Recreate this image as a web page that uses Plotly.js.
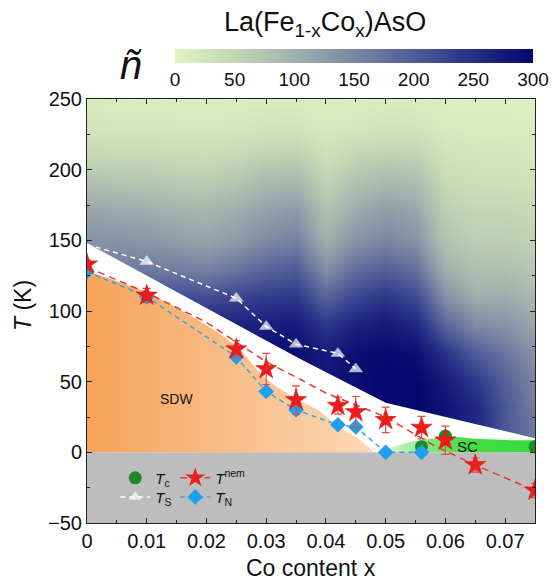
<!DOCTYPE html>
<html><head><meta charset="utf-8">
<script src="https://cdn.plot.ly/plotly-3.0.1.min.js"></script>
<style>html,body{margin:0;padding:0;background:#fff}#chart{width:552px;height:584px}</style>
</head><body><div id="chart"></div>
<script>
// ñ map grid (Co content x, temperature T)
const mapX = [0,0.005,0.01,0.015,0.02,0.025,0.03,0.035,0.04,0.045,0.05,0.055,0.06,0.065,0.07,0.075];
const mapT = [10,30,50,70,90,110,130,150,170,190,210,230,250];
const mapZ = [
  [150,180,220,250,270,280,290,290,280,290,295,295,285,260,205,165],
  [150,180,220,250,270,280,290,290,280,290,300,300,285,260,205,160],
  [150,180,220,250,270,280,290,290,280,290,300,300,275,240,195,150],
  [150,180,220,250,270,280,290,290,275,290,295,290,245,200,170,135],
  [150,180,220,250,260,265,270,275,240,265,275,260,190,145,135,112],
  [150,175,210,220,215,225,235,240,190,225,240,220,140,105,105,90],
  [150,160,165,160,155,170,190,200,140,180,195,175,100,80,80,70],
  [135,135,130,122,115,125,145,155,100,135,150,135,75,60,60,55],
  [115,110,105,98,95,105,120,130,80,110,125,115,60,50,50,45],
  [80,76,72,67,65,75,90,95,55,80,92,85,45,35,35,30],
  [48,46,45,42,40,45,55,58,35,50,58,55,30,25,25,20],
  [25,23,22,21,20,22,25,26,18,22,26,25,16,14,14,13],
  [15,13,12,11,10,11,12,12,10,11,12,12,9,8,8,8]
];
const cbTicks = [0,50,100,150,200,250,300];

// phase boundaries
const whiteX = [0,0.0357,0.05,0.061,0.075];
const whiteT = [148,66,35,24,10];
const sdwX = [0,0.01,0.02,0.025,0.03,0.035,0.039,0.042,0.045,0.048];
const sdwT = [128,113,90,75,52,38,29,18,11,0];
const scX = [0.049,0.052,0.055,0.058,0.061,0.064,0.068,0.072,0.075];
const scT = [0,5,8,10,11,10,9,8.5,8.5];

// measured transitions
const tsX = [0,0.01,0.025,0.03,0.035,0.042,0.045];
const tsT = [147,135,109,89,76.5,70,59];
const tnX = [0,0.01,0.025,0.03,0.035,0.042,0.045,0.05,0.056];
const tnT = [128,110,67.5,43,30,19.5,18,0,0];
const nemX = [0,0.01,0.025,0.03,0.035,0.042,0.045,0.05,0.056,0.06,0.065,0.075];
const nemT = [133,111,73,59,37,33,28.5,23,17.5,8.5,-9,-27];
const nemErr = [3,5,6,11,10,6,11,9,8,10,5,5];
const nemFitX = [0,0.01,0.02,0.03,0.036,0.04,0.05,0.058,0.065,0.075];
const nemFitT = [131,113,92,64,51,42,25,5,-9,-27];
const tcX = [0.056,0.06,0.075];
const tcT = [4,11.5,4];

const RED = '#ee1d1d', BLUE = '#1e9ff0', GREEN = '#1f8a26';

const traces = [
  {type:'heatmap', x:mapX, y:mapT, z:mapZ, zmin:0, zmax:300, zsmooth:'best', hoverinfo:'skip',
   colorscale:[[0,'#e2f3c4'],[0.17,'#c3d5b4'],[0.33,'#a3b1ae'],[0.5,'#7a87a3'],[0.67,'#4e5b98'],[0.83,'#262f86'],[1,'#03076e']],
   colorbar:{orientation:'h', x:0.1964, xanchor:'left', y:1.0354, yanchor:'bottom', len:358, lenmode:'pixels',
     thickness:14, xpad:0, ypad:0, outlinewidth:0, ticks:'', ticklabelposition:'outside top',
     tickmode:'array', tickvals:cbTicks, tickfont:{size:19, color:'#111'}}},
  {type:'scatter', x:whiteX, y:whiteT, mode:'lines', fill:'tozeroy', fillcolor:'#ffffff', line:{width:0}, showlegend:false, hoverinfo:'skip'},
  {type:'scatter', x:sdwX, y:sdwT, mode:'lines', fill:'tozeroy', line:{width:0, shape:'spline'}, showlegend:false, hoverinfo:'skip',
   fillgradient:{type:'horizontal', colorscale:[[0,'#f6a35a'],[1,'#fcd8b6']]}},
  {type:'scatter', x:scX, y:scT, mode:'lines', fill:'tozeroy', line:{width:0, shape:'spline'}, showlegend:false, hoverinfo:'skip',
   fillgradient:{type:'horizontal', colorscale:[[0,'#e4f8e0'],[0.3,'#86e886'],[0.55,'#46dc46'],[1,'#3ad83a']]}},
  {type:'scatter', x:tsX, y:tsT, mode:'lines+markers', name:'<i>T</i><sub>S</sub>', legend:'legend3',
   line:{color:'#ffffff', width:1.5, dash:'5px,4px'},
   marker:{symbol:'triangle-up', color:'#ffffff', size:tsX.map((v,i)=> i===0 ? 0 : 12), line:{color:'#ffffff', width:0.5}}},
  {type:'scatter', x:tcX, y:tcT, mode:'markers', name:'<i>T</i><sub>c</sub>', legend:'legend',
   marker:{symbol:'circle', color:GREEN, size:13}},
  {type:'scatter', x:tnX, y:tnT, mode:'lines+markers', name:'<i>T</i><sub>N</sub>', legend:'legend4',
   line:{color:'#3aa6d6', width:1.5, dash:'5px,4px'},
   marker:{symbol:'diamond', color:BLUE, size:12}},
  {type:'scatter', x:nemFitX, y:nemFitT, mode:'lines', showlegend:false, hoverinfo:'skip',
   line:{color:'#e63b30', width:1.5, dash:'7px,5px'}},
  {type:'scatter', x:nemX, y:nemT, mode:'markers', showlegend:false,
   error_y:{type:'data', array:nemErr, color:'#e84a40', thickness:1.2, width:4},
   marker:{symbol:'star', color:RED, size:16, line:{color:'#d01010', width:0.5}}},
  {type:'scatter', x:[null], y:[null], mode:'lines+markers', name:'<i>T</i><sup>nem</sup>', legend:'legend2',
   line:{color:'#e63b30', width:1.5, dash:'7px,5px'},
   marker:{symbol:'star', color:RED, size:15}}
];

const axisCommon = {showline:true, linecolor:'#222', linewidth:1, mirror:'ticks', ticks:'inside', ticklen:5, tickcolor:'#222',
  showgrid:false, zeroline:false, tickfont:{size:20, color:'#111'}};

const legBase = {xanchor:'left', yanchor:'middle', bgcolor:'rgba(0,0,0,0)', font:{size:15, color:'#111'}, itemwidth:30};

const layout = {
  width:552, height:584,
  margin:{l:87, r:17, t:99, b:61},
  paper_bgcolor:'#ffffff', plot_bgcolor:'#bdbdbd',
  font:{family:'Liberation Sans, Arial, sans-serif', color:'#111'},
  xaxis:Object.assign({}, axisCommon, {range:[0,0.075], tick0:0, dtick:0.01,
    minor:{dtick:0.005, ticks:'inside', ticklen:3, tickcolor:'#222'}}),
  yaxis:Object.assign({}, axisCommon, {range:[-50,250], tick0:0, dtick:50,
    minor:{dtick:25, ticks:'inside', ticklen:3, tickcolor:'#222'}}),
  legend:Object.assign({}, legBase, {x:0.063, y:0.106}),
  legend2:Object.assign({}, legBase, {x:0.197, y:0.106}),
  legend3:Object.assign({}, legBase, {x:0.063, y:0.061}),
  legend4:Object.assign({}, legBase, {x:0.197, y:0.061}),
  annotations:[
    {text:'La(Fe<sub>1-x</sub>Co<sub>x</sub>)AsO', xref:'paper', yref:'paper', x:0.531, y:1.177, xanchor:'center', yanchor:'middle', showarrow:false, font:{size:27, color:'#111'}},
    {text:'<i>ñ</i>', xref:'paper', yref:'paper', x:0.098, y:1.08, xanchor:'center', yanchor:'middle', showarrow:false, font:{size:40, color:'#111'}},
    {text:'<i>T</i> (K)', xref:'paper', yref:'paper', x:-0.143, y:0.514, xanchor:'center', yanchor:'middle', textangle:-90, showarrow:false, font:{size:23, color:'#111'}},
    {text:'Co content x', xref:'paper', yref:'paper', x:0.5, y:-0.107, xanchor:'center', yanchor:'middle', showarrow:false, font:{size:23, color:'#111'}},
    {text:'SDW', xref:'x', yref:'y', x:0.0149, y:38, showarrow:false, font:{size:14, color:'#111'}},
    {text:'SC', xref:'x', yref:'y', x:0.0637, y:4, showarrow:false, font:{size:15, color:'#111'}}
  ]
};

Plotly.newPlot('chart', traces, layout, {displayModeBar:false, staticPlot:true});
</script></body></html>
